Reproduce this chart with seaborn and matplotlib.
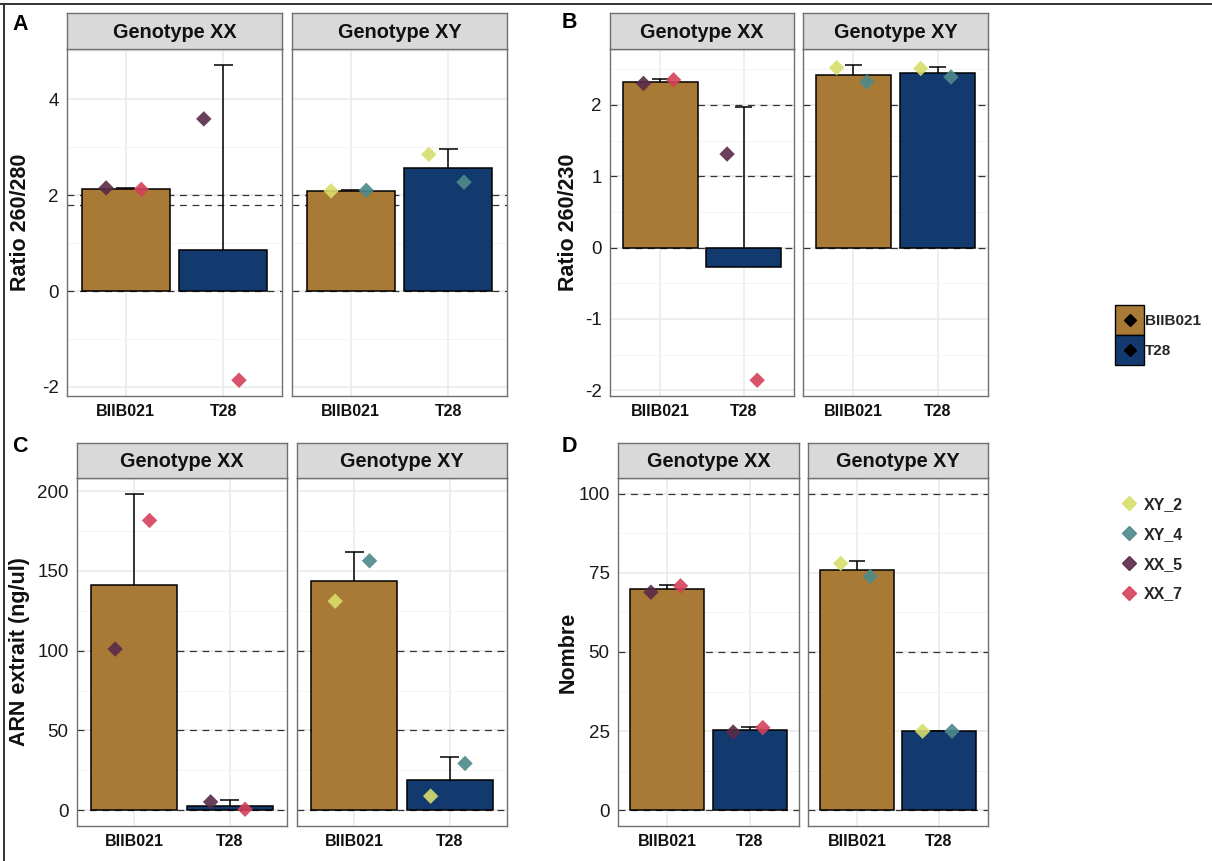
import numpy as np
import pandas as pd
import matplotlib
matplotlib.use("Agg")
import matplotlib.pyplot as plt
import seaborn as sns
from matplotlib.patches import Patch, Rectangle
from matplotlib.lines import Line2D
from matplotlib.ticker import MultipleLocator

# ---------------- data ----------------
genotype_col = ["Genotype XX"] * 4 + ["Genotype XY"] * 4
treatment_col = ["BIIB021", "BIIB021", "T28", "T28"] * 2
sample_col = ["XX_5", "XX_7", "XX_5", "XX_7", "XY_2", "XY_4", "XY_2", "XY_4"]
replicate_col = [0, 1, 0, 1, 0, 1, 0, 1]

ratio_260_280 = [2.15, 2.12, 3.59, -1.86, 2.09, 2.10, 2.85, 2.27]
ratio_260_230 = [2.30, 2.35, 1.31, -1.86, 2.52, 2.32, 2.51, 2.39]
arn_extrait = [101.0, 181.6, 5.2, 0.6, 131.0, 156.3, 8.8, 29.3]
nombre = [68.9, 70.9, 24.7, 26.1, 78.0, 73.9, 25.0, 25.0]

genotypes = ["Genotype XX", "Genotype XY"]
treatments = ["BIIB021", "T28"]
sample_order = ["XY_2", "XY_4", "XX_5", "XX_7"]

ref_lines_a = [0, 1.8, 2]
ref_lines_b = [0, 1, 2]
ref_lines_c = [0, 50, 100]
ref_lines_d = [0, 50, 100]

# ---------------- styles ----------------
bar_colors = {"BIIB021": "#A87A35", "T28": "#133A6E"}
point_colors = {"XY_2": "#D8DE6C", "XY_4": "#4E898A", "XX_5": "#5A2A48", "XX_7": "#D5415A"}
dodge = {0: -0.20, 1: 0.16}

W, H = 1212, 861
sns.set_theme(style="white")
plt.rcParams["font.family"] = ["Liberation Sans", "DejaVu Sans"]
plt.rcParams["axes.unicode_minus"] = False

fig = plt.figure(figsize=(W / 100, H / 100), dpi=100)


def add_ax(x0, x1, y0, y1):
    return fig.add_axes([x0 / W, 1 - y1 / H, (x1 - x0) / W, (y1 - y0) / H])


base = pd.DataFrame({
    "genotype": genotype_col,
    "treatment": treatment_col,
    "sample": sample_col,
    "rep": replicate_col,
})
base["xpos"] = [treatments.index(t) + dodge[r] for t, r in zip(treatment_col, replicate_col)]

panels = [
    dict(values=ratio_260_280, ylabel="Ratio 260/280", letter="A", hlines=ref_lines_a,
         major=2, xs=[(67, 282), (292, 507)], ys=(49, 396), strip=(13, 49),
         letter_pos=(20, 24), ylabel_x=21),
    dict(values=ratio_260_230, ylabel="Ratio 260/230", letter="B", hlines=ref_lines_b,
         major=1, xs=[(610, 794), (803, 988)], ys=(49, 396), strip=(13, 49),
         letter_pos=(569, 22), ylabel_x=568),
    dict(values=arn_extrait, ylabel="ARN extrait (ng/ul)", letter="C", hlines=ref_lines_c,
         major=50, xs=[(77, 287), (297, 507)], ys=(478, 826), strip=(443, 478),
         letter_pos=(20, 447), ylabel_x=20),
    dict(values=nombre, ylabel="Nombre", letter="D", hlines=ref_lines_d,
         major=25, xs=[(618, 799), (808, 988)], ys=(478, 826), strip=(443, 478),
         letter_pos=(569, 447), ylabel_x=568),
]

for p in panels:
    df = base.copy()
    df["value"] = p["values"]
    stats = df.groupby(["genotype", "treatment"])["value"].agg(["mean", "std"]).reset_index()
    lo = min(df["value"].min(), 0, min(p["hlines"]))
    hi = max(df["value"].max(), (stats["mean"] + stats["std"]).max(), max(p["hlines"]))
    pad = (hi - lo) * 0.05
    ylim = (lo - pad, hi + pad)

    for gi, g in enumerate(genotypes):
        x0, x1 = p["xs"][gi]
        ax = add_ax(x0, x1, p["ys"][0], p["ys"][1])
        sub = df[df["genotype"] == g]
        st = stats[stats["genotype"] == g]

        sns.barplot(data=sub, x="treatment", y="value", hue="treatment",
                    order=treatments, hue_order=treatments, palette=bar_colors,
                    saturation=1, errorbar=None, width=0.9, edgecolor="black",
                    linewidth=1.1, legend=False, ax=ax, zorder=3)
        # error bars: mean -> mean + sd (lower half hidden, like the original)
        for _, r in st.iterrows():
            xi = treatments.index(r["treatment"])
            top = r["mean"] + r["std"]
            ax.vlines(xi, r["mean"], top, color="black", lw=1.1, zorder=2.5)
            ax.hlines(top, xi - 0.1, xi + 0.1, color="black", lw=1.1, zorder=2.5)
        for yv in p["hlines"]:
            ax.axhline(yv, color="#333333", lw=0.9, ls=(0, (5.5, 4.5)), zorder=2)
        sns.scatterplot(data=sub, x="xpos", y="value", hue="sample", palette=point_colors,
                        marker="D", s=62, linewidth=0, alpha=0.9, legend=False,
                        ax=ax, zorder=4)

        ax.set_xlim(-0.6, 1.6)
        ax.set_ylim(*ylim)
        ax.set_xticks([0, 1])
        ax.set_xticklabels(treatments, fontsize=11.5, fontweight="bold", color="#111111")
        ax.yaxis.set_major_locator(MultipleLocator(p["major"]))
        ax.yaxis.set_minor_locator(MultipleLocator(p["major"] / 2))
        ax.set_axisbelow(True)
        ax.grid(True, which="major", color="#EBEBEB", lw=1.2, zorder=0)
        ax.yaxis.grid(True, which="minor", color="#F4F4F4", lw=0.7, zorder=0)
        ax.set_xlabel("")
        ax.set_ylabel("")
        ax.set_facecolor("white")
        for s in ax.spines.values():
            s.set_color("#707070")
            s.set_linewidth(1.0)
        ax.tick_params(axis="x", length=3, width=0.8, color="#333333", pad=3)
        ax.tick_params(axis="y", which="major", length=3, width=0.8, color="#333333",
                       pad=3, labelsize=13.5, labelcolor="#1A1A1A")
        ax.tick_params(axis="y", which="minor", length=0)
        if gi == 1:
            ax.tick_params(axis="y", which="both", length=0, labelleft=False)

        # facet strip
        sa = add_ax(x0, x1, p["strip"][0], p["strip"][1])
        sa.set_facecolor("#D9D9D9")
        sa.set_xticks([])
        sa.set_yticks([])
        for s in sa.spines.values():
            s.set_color("#707070")
            s.set_linewidth(1.0)
        sa.text(0.5, 0.47, g, transform=sa.transAxes, ha="center", va="center",
                fontsize=14.3, fontweight="bold", color="#111111")

    # y title and panel letter
    yc = (p["ys"][0] + p["ys"][1]) / 2
    fig.text(p["ylabel_x"] / W, 1 - yc / H, p["ylabel"], rotation=90, ha="center",
             va="center", fontsize=15.5, fontweight="bold", color="#111111")
    fig.text(p["letter_pos"][0] / W, 1 - p["letter_pos"][1] / H, p["letter"],
             ha="center", va="center", fontsize=15.5, fontweight="bold", color="black")


# ---------------- legends ----------------
class FillKeyHandler:
    """ggplot-like key: filled square with a black diamond in its centre."""

    def legend_artist(self, legend, orig_handle, fontsize, handlebox):
        x0, y0 = handlebox.xdescent, handlebox.ydescent
        w, h = handlebox.width, handlebox.height
        tr = handlebox.get_transform()
        rect = Rectangle((-x0, -y0), w, h, facecolor=orig_handle.get_facecolor(),
                         edgecolor="black", linewidth=1.0, transform=tr)
        mk = Line2D([-x0 + w / 2], [-y0 + h / 2], marker="D", color="black",
                    linestyle="", markersize=6.5, transform=tr)
        handlebox.add_artist(rect)
        handlebox.add_artist(mk)
        return rect


fill_handles = [Patch(facecolor=bar_colors[t]) for t in treatments]
leg1 = fig.legend(fill_handles, treatments, handler_map={Patch: FillKeyHandler()},
                  loc="upper left", bbox_to_anchor=(1115 / W, 1 - 305 / H),
                  frameon=False, borderpad=0, borderaxespad=0, labelspacing=0,
                  handlelength=1.9, handleheight=2.64, handletextpad=0.06,
                  prop=dict(family=["Liberation Sans"], weight="bold", size=11))

pt_handles = [Line2D([], [], marker="D", color=point_colors[s], linestyle="",
                     markersize=7.5, alpha=0.9) for s in sample_order]
leg2 = fig.legend(pt_handles, sample_order, loc="upper left",
                  bbox_to_anchor=(1118 / W, 1 - 497 / H), frameon=False,
                  borderpad=0, borderaxespad=0, labelspacing=0.93,
                  handlelength=1.4, handletextpad=0.2,
                  prop=dict(family=["Liberation Sans"], weight="bold", size=11.5))

# outer frame (top and left edges)
fig.add_artist(Line2D([0, 1], [1 - 4 / H, 1 - 4 / H], color="#333333", lw=1.4,
                      transform=fig.transFigure))
fig.add_artist(Line2D([3.5 / W, 3.5 / W], [0, 1 - 4 / H], color="#333333", lw=1.4,
                      transform=fig.transFigure))

fig.savefig("out.png", dpi=100, facecolor="white")
